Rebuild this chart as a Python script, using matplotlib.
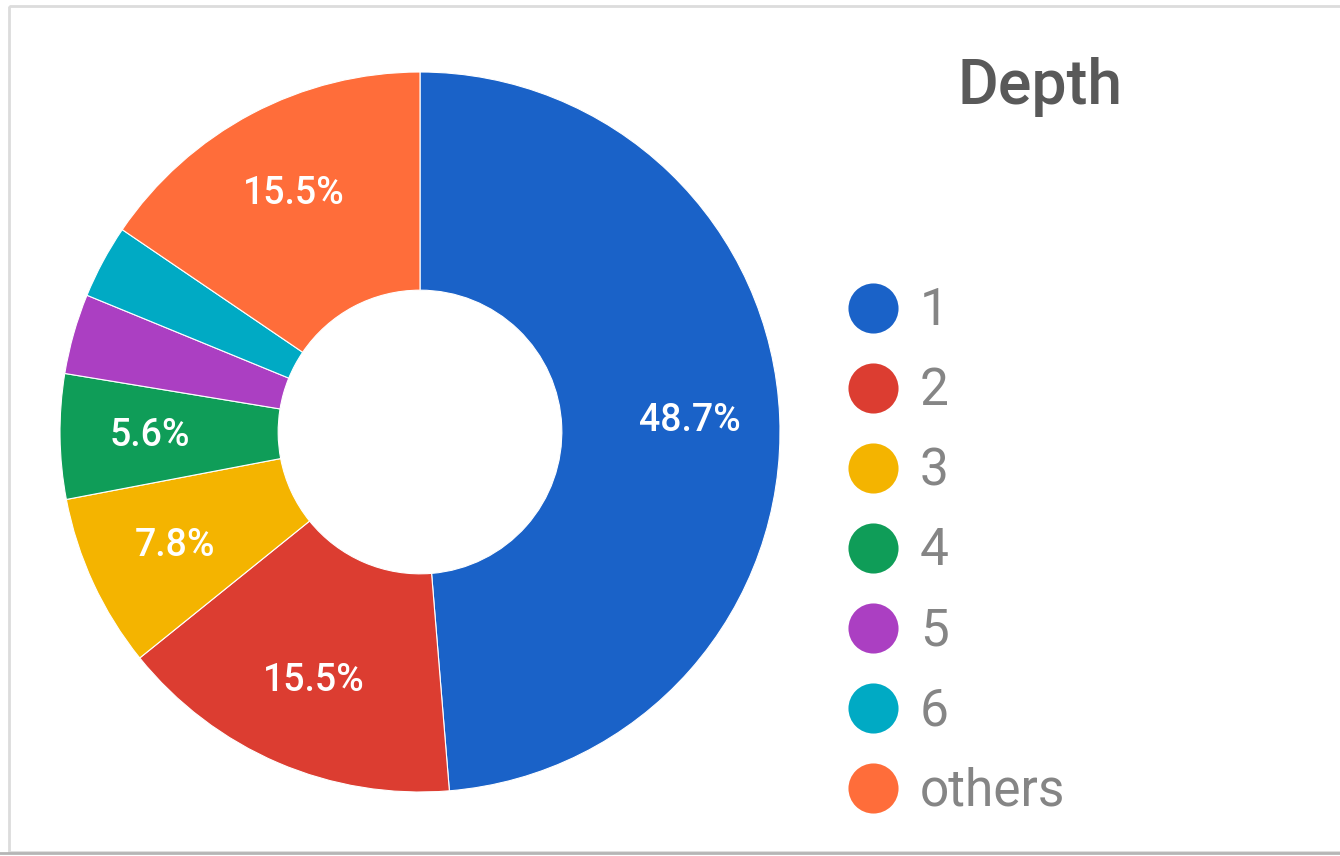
import matplotlib
matplotlib.use("Agg")
import matplotlib.pyplot as plt
from matplotlib.patches import Rectangle

plt.rcParams['font.family'] = ['Roboto', 'DejaVu Sans']

# data
depths = ["1", "2", "3", "4", "5", "6", "others"]
shares = [48.7, 15.5, 7.8, 5.6, 3.6, 3.3, 15.5]
colors = ["#1a62c8", "#dc3d31", "#f4b400", "#0f9d58", "#ab3fc2", "#00aac4", "#ff6d3a"]

W, H = 1340, 856
fig = plt.figure(figsize=(W / 100, H / 100), dpi=100)

# donut: centre (420, 432) px, outer radius 360 px
cx, cy, r = 420, 432, 360
ax = fig.add_axes([(cx - r) / W, (H - cy - r) / H, 2 * r / W, 2 * r / H])


def pct(p):
    return "%.1f%%" % p if p >= 5 else ""


wedges, texts, autotexts = ax.pie(
    shares, colors=colors, startangle=90, counterclock=False,
    autopct=pct, pctdistance=0.75,
    wedgeprops=dict(width=0.606, edgecolor="white", linewidth=0.8),
    textprops=dict(color="white", fontsize=27, fontweight="medium"))
ax.set_xlim(-1, 1)
ax.set_ylim(-1, 1)
ax.set_aspect("equal")
ax.axis("off")

# overlay in pixel coords for frame, title and legend
ov = fig.add_axes([0, 0, 1, 1], zorder=-1)
ov.set_xlim(0, W)
ov.set_ylim(H, 0)
ov.axis("off")
ov.add_patch(Rectangle((9, 6), W + 20, 846, fill=False, edgecolor="#dcdcdc", linewidth=2))
ov.plot([0, W], [853, 853], color="#b5b5b5", linewidth=2)

leg = fig.add_axes([0, 0, 1, 1])
leg.set_xlim(0, W)
leg.set_ylim(H, 0)
leg.axis("off")
leg.text(1040, 104, "Depth", fontsize=45, color="#595959", ha="center", va="baseline",
         fontweight="medium")
for i, (lab, col) in enumerate(zip(depths, colors)):
    y = 308 + 80 * i
    leg.scatter([873], [y], s=1300, color=col, linewidths=0)
    leg.text(920, y + 17, lab, fontsize=37, color="#858585", ha="left", va="baseline")

fig.savefig("out.png", dpi=100)
